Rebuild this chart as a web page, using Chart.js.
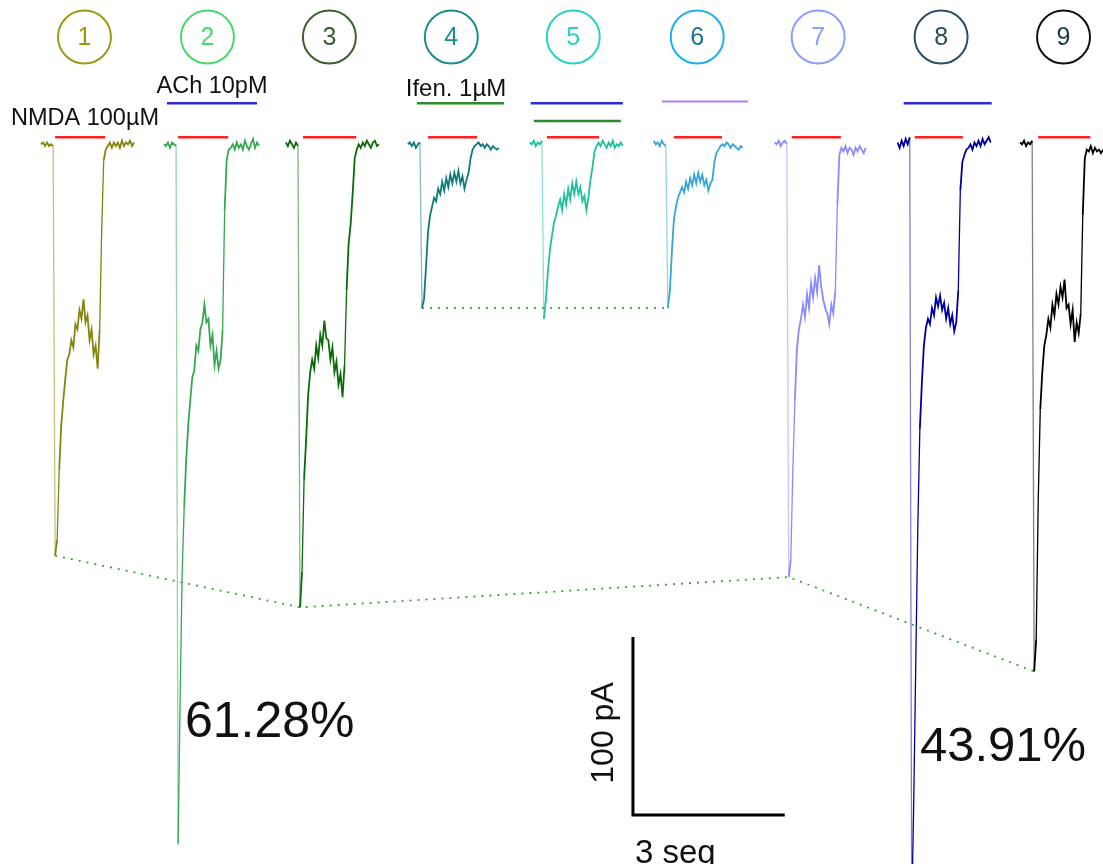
<!DOCTYPE html>
<html>
<head>
<meta charset="utf-8">
<script src="https://cdn.jsdelivr.net/npm/chart.js@4/dist/chart.umd.min.js"></script>
<style>
  body { margin: 0; background: #fff; }
  #wrap { width: 1103px; height: 864px; }
</style>
</head>
<body>
<div id="wrap"><canvas id="traces"></canvas></div>
<script>
// sampling of every trace (seconds), samples before NMDA onset
const sampleInterval = 0.04;
const preSamples = 7;

// NMDA onset of each recording on the shared time axis (s)
const onsets = [1.09, 3.52, 5.93, 8.34, 10.75, 13.20, 15.59, 18.02, 20.44];

// current (pA), one value per sample
const trace1 = [0, 1, -1, 1, -1, 0, -1, -231, -222, -183, -158, -144, -132, -121, -118, -110, -114, -101, -104, -93, -98, -87, -100, -96, -110, -104, -118, -113, -126, -104, -48, -9, -3, -1, 1, -2, 1, -1, 1, -2, 2, -1, 1, 0, 2, -1, 1];
const trace2 = [0, -1, 1, -2, 1, 0, -1, -393, -312, -241, -204, -177, -158, -144, -131, -127, -113, -116, -104, -100, -90, -100, -98, -113, -107, -124, -116, -126, -121, -104, -37, -9, -3, -2, 0, -3, 1, -2, 0, -3, 2, -1, -3, 0, 3, -2, 1, -1];
const trace3 = [1, -1, 2, 0, -2, 1, -1, -260, -240, -188, -166, -141, -128, -121, -126, -113, -120, -107, -113, -99, -109, -110, -121, -114, -128, -122, -135, -129, -142, -124, -82, -56, -45, -28, -8, -3, 0, -2, 1, -1, 2, 0, -2, 1, 2, -1, 0];
const trace4 = [0, 1, -1, 1, -2, 0, 1, -92, -87, -69, -49, -40, -35, -30, -32, -25, -28, -21, -26, -19, -24, -17, -22, -16, -21, -15, -22, -18, -25, -20, -16, -8, -3, -1, 0, 1, -1, 0, -2, 0, -1, -3, -1, -2, -3, -2];
const trace5 = [1, 0, 2, -1, 1, 0, 2, -98, -87, -71, -59, -51, -44, -40, -35, -31, -37, -28, -34, -25, -31, -22, -28, -21, -28, -24, -32, -29, -37, -30, -20, -13, -4, -1, 1, -1, 2, 0, -2, 1, -1, 2, -2, 0, -1, 1, -1];
const trace6 = [2, 0, 1, -1, 2, 0, -1, -92, -82, -60, -42, -35, -30, -27, -24, -27, -21, -25, -19, -23, -17, -22, -16, -21, -17, -23, -20, -26, -22, -20, -10, -5, -3, -1, 0, -1, 1, 0, -2, 0, -1, -2, -3, -1, -2];
const trace7 = [1, 0, 2, -1, 1, 2, 0, -243, -233, -183, -144, -115, -104, -98, -90, -97, -84, -92, -78, -86, -75, -83, -68, -80, -87, -92, -95, -101, -90, -95, -82, -34, -6, -2, -4, -1, -5, -2, -3, -6, -2, -4, -1, -3, -5, -2];
const trace8 = [1, -2, 2, -1, 3, 0, 4, -430, -368, -290, -215, -160, -134, -113, -103, -98, -101, -92, -96, -86, -91, -85, -93, -89, -98, -92, -101, -96, -105, -100, -82, -26, -10, -6, -3, -2, 0, -3, 1, -1, 2, -1, 3, 0, 2, 4, 1];
const trace9 = [1, 0, 2, -1, 1, 0, 2, -296, -278, -200, -149, -128, -113, -107, -98, -103, -90, -96, -84, -90, -80, -86, -76, -92, -90, -101, -93, -111, -100, -106, -95, -40, -8, -3, -4, -1, -5, -2, -4, -3, -5, -3];

const traces = [trace1, trace2, trace3, trace4, trace5, trace6, trace7, trace8, trace9];

// drug applications, seconds relative to each onset
const nmdaOn = [0, 0, 0.06, 0.12, 0.06, 0.12, 0.06, 0.06, 0.08];
const nmdaOff = [0.99, 0.99, 1.11, 1.09, 1.09, 1.07, 1.03, 1.01, 1.11];
const achTrace = [1, 4, 7];
const achOn = [-0.22, -0.26, -0.16];
const achOff = [1.56, 1.56, 1.58];
const ifenTrace = [3, 4];
const ifenOn = [-0.10, -0.20];
const ifenOff = [1.62, 1.52];
const purpleTrace = [5];
const purpleOn = [-0.12];
const purpleOff = [1.58];

// peaks joined by the dotted lines
const peakLinks = [[0, 2, 6, 8], [3, 5]];

const traceColors = ['#858510', '#34a852', '#0b6b0b', '#0f7b7a', '#21c19f', '#36a6d6', '#8b8bff', '#0000a0', '#000000'];
const badgeStroke = ['#9a9a14', '#4ad86a', '#3d5e30', '#1a8f8a', '#27d0c8', '#1ab2ea', '#8c9cff', '#2a4d66', '#111111'];
const badgeText = ['#9a9a14', '#4ad86a', '#3d5e30', '#1a8f8a', '#27d0c8', '#1f6f96', '#8c9cff', '#2a4d5a', '#1a3a48'];

const FONT = '"Liberation Sans", Arial, sans-serif';
const nmdaLevel = 4, upperLevel = 23, lowerLevel = 13;
const scaleOrigin = { x: 12.51, y: -376.6 };

function traceDataset(values, i) {
  const col = traceColors[i];
  return {
    data: values.map((v, k) => ({ x: onsets[i] + (k - preSamples) * sampleInterval, y: v })),
    borderColor: col,
    borderWidth: 1.8,
    segment: {
      // the fast downward jump renders lighter in the original
      borderColor: c => (c.p1.y - c.p0.y > 60 ? col + '80' : undefined),
      borderWidth: c => (Math.abs(c.p1.y - c.p0.y) > 60 ? 1.3 : undefined)
    }
  };
}

function barDataset(i, on, off, level, color, width) {
  return {
    data: [{ x: onsets[i] + on, y: level }, { x: onsets[i] + off, y: level }],
    borderColor: color,
    borderWidth: width
  };
}

const datasets = traces.map(traceDataset);

traces.forEach((_, i) => datasets.push(barDataset(i, nmdaOn[i], nmdaOff[i], nmdaLevel, '#ff2020', 2.5)));
achTrace.forEach((i, j) => datasets.push(barDataset(i, achOn[j], achOff[j], upperLevel, '#2b2bdd', 2.5)));
ifenTrace.forEach((i, j) => datasets.push(barDataset(i, ifenOn[j], ifenOff[j], i === 4 ? lowerLevel : upperLevel, '#2e8b2e', 2.5)));
purpleTrace.forEach((i, j) => datasets.push(barDataset(i, purpleOn[j], purpleOff[j], upperLevel + 1, '#b27cf5', 2)));

// scale bar: 3 s x 100 pA
datasets.push({
  data: [
    { x: scaleOrigin.x, y: scaleOrigin.y + 100 },
    { x: scaleOrigin.x, y: scaleOrigin.y },
    { x: scaleOrigin.x + 3, y: scaleOrigin.y }
  ],
  borderColor: '#000',
  borderWidth: 3,
  borderJoinStyle: 'miter'
});

peakLinks.forEach(link => {
  datasets.push({
    data: link.map(i => {
      const vals = traces[i];
      const m = Math.min(...vals);
      const k = vals.indexOf(m);
      return { x: onsets[i] + (k - preSamples) * sampleInterval, y: m };
    }),
    borderColor: '#3f9f3f',
    borderWidth: 1.8,
    borderDash: [2, 6]
  });
});

const overlay = {
  id: 'overlay',
  afterDatasetsDraw(chart) {
    const { ctx, scales: { x, y } } = chart;
    ctx.save();
    // numbered circles
    onsets.forEach((t0, i) => {
      const cx = x.getPixelForValue(t0 + 0.58);
      const cy = 37;
      ctx.beginPath();
      ctx.arc(cx, cy, 26.5, 0, Math.PI * 2);
      ctx.lineWidth = 2;
      ctx.strokeStyle = badgeStroke[i];
      ctx.stroke();
      ctx.fillStyle = badgeText[i];
      ctx.font = '25px ' + FONT;
      ctx.textAlign = 'center';
      ctx.textBaseline = 'middle';
      ctx.fillText(String(i + 1), cx, cy + 1);
    });

    ctx.fillStyle = '#111';
    ctx.textBaseline = 'middle';
    ctx.font = '23.5px ' + FONT;
    ctx.textAlign = 'left';
    ctx.fillText('NMDA 100µM', 11, 119);
    ctx.textAlign = 'center';
    ctx.fillText('ACh 10pM', 212, 87);
    ctx.font = '24px ' + FONT;
    ctx.fillText('Ifen. 1µM', 456, 89);

    ctx.textBaseline = 'alphabetic';
    ctx.textAlign = 'left';
    ctx.font = '50px ' + FONT;
    ctx.fillText('61.28%', 185, 737);
    ctx.font = '49px ' + FONT;
    ctx.fillText('43.91%', 920, 761);

    // scale bar labels
    const sx = x.getPixelForValue(scaleOrigin.x);
    const sy = y.getPixelForValue(scaleOrigin.y);
    const sTop = y.getPixelForValue(scaleOrigin.y + 100);
    ctx.font = '33px ' + FONT;
    ctx.fillText('3 seg', sx + 2, sy + 48);
    ctx.save();
    ctx.font = '32px ' + FONT;
    ctx.translate(sx - 29, (sy + sTop) / 2 + 7);
    ctx.rotate(-Math.PI / 2);
    ctx.textAlign = 'center';
    ctx.textBaseline = 'middle';
    ctx.fillText('100 pA', 0, 0);
    ctx.restore();

    ctx.restore();
  }
};

new Chart(document.getElementById('traces').getContext('2d'), {
  type: 'line',
  data: { datasets },
  options: {
    responsive: true,
    maintainAspectRatio: false,
    animation: false,
    layout: { padding: 0 },
    elements: { point: { radius: 0 }, line: { tension: 0 } },
    scales: {
      x: { type: 'linear', min: 0, max: 21.8, display: false },
      y: { min: -404.1, max: 81, display: false }
    },
    plugins: { legend: { display: false }, tooltip: { enabled: false } }
  },
  plugins: [overlay]
});
</script>
</body>
</html>
